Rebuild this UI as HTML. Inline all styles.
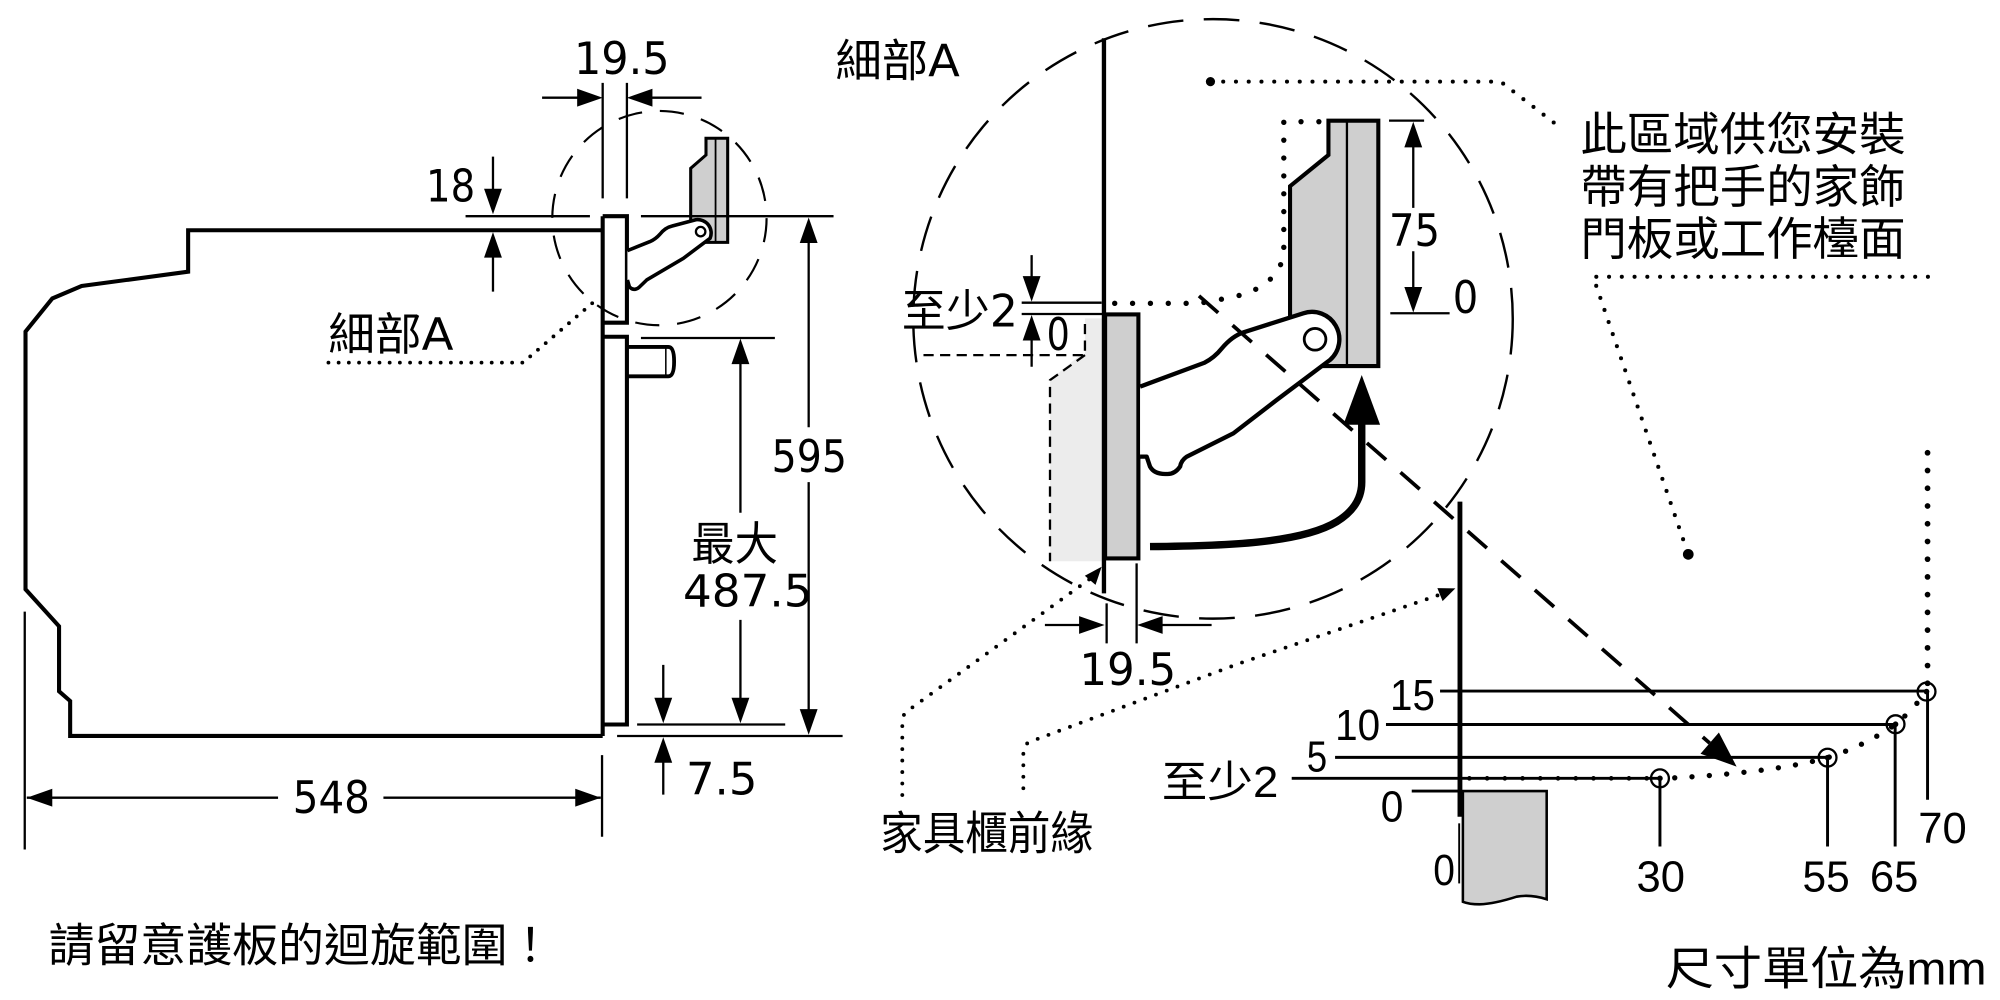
<!DOCTYPE html>
<html><head><meta charset="utf-8"><style>
html,body{margin:0;padding:0;background:#fff;}
svg{display:block;}
.d{font-family:"DejaVu Sans","Noto Sans CJK TC",sans-serif;font-size:35px;}
.c{font-family:"Liberation Sans","Noto Sans CJK TC",sans-serif;font-size:34px;}
.k{font-family:"Liberation Sans","Noto Sans CJK TC",sans-serif;font-size:36px;}
</style></head><body>
<svg width="2000" height="1000" viewBox="0 0 1568 784" xmlns="http://www.w3.org/2000/svg">
<rect x="0" y="0" width="1568" height="784" fill="#fff"/>

<!-- ===== LEFT FIGURE ===== -->
<g fill="none" stroke="#000" stroke-linejoin="miter">
  <polyline points="473,180.5 147.5,180.5 147.5,213 64,224.2 41,234 20,260 20,462 46.3,491 46.3,542 55,549.6 55,577 472.5,577" stroke-width="3.2"/>
  <path d="M472.5,169.5 V577 M472.5,169.5 H491.5 V253 H472.5 M472.5,264 H491.5 V568 H472.5" stroke-width="3.2"/>
  <path d="M492.5,272 H524 Q528.5,272 528.5,283.5 Q528.5,295 524,295 H492.5" stroke-width="3"/>
  <path d="M522,273 V294" stroke-width="1.2"/>
</g>
<!-- small gray panel -->
<path d="M553.5,108.4 H570.5 V190 H541.5 V132 L553.5,121.5 Z" fill="#cfcfcf" stroke="#000" stroke-width="2.4"/>
<path d="M561,108.4 V190" stroke="#000" stroke-width="1.4"/>
<!-- small arm -->
<path d="M491.9,196.5 L509.6,189.4 Q514,187.5 517.5,183.5 Q521.5,178.5 527,177.2 L545.5,172.3 A10.5,10.5 0 0 1 556.7,186.8 L535.8,202.5 L507,219.5 L501,225.3 Q497,228.5 493.5,225 L491.9,219.5" fill="#fff" stroke="#000" stroke-width="2.8" stroke-linejoin="round"/>
<circle cx="549.3" cy="181.6" r="3.7" fill="#fff" stroke="#000" stroke-width="1.8"/>
<!-- small dashed circle -->
<circle cx="517" cy="171" r="84" fill="none" stroke="#000" stroke-width="1.7" stroke-dasharray="19 14"/>

<!-- thin dimension lines left -->
<g fill="none" stroke="#000" stroke-width="1.8">
  <path d="M365,169.5 H462.5 M502.5,169.5 H653.5"/>
  <path d="M502.5,265 H607.5"/>
  <path d="M499.5,568 H615.6"/>
  <path d="M483.8,577 H660.6"/>
  <path d="M19.4,479.5 V666"/>
  <path d="M472,592 V656"/>
  <path d="M472.5,65 V155.5 M491.5,65 V155.5"/>
  <path d="M425,76.6 H455 M509,76.6 H550"/>
  <path d="M386.5,122.8 V150 M386.5,200 V228.6"/>
  <path d="M634,188 V335 M634,378 V558"/>
  <path d="M580.5,283 V402 M580.5,486 V549"/>
  <path d="M520,521.3 V549 M520,596 V623"/>
  <path d="M21,625.4 H218 M300.6,625.4 H471"/>
</g>
<g fill="#000">
  <polygon points="472.5,76.6 452.5,69.6 452.5,83.6"/>
  <polygon points="491.5,76.6 511.5,69.6 511.5,83.6"/>
  <polygon points="386.5,168 379.5,148 393.5,148"/>
  <polygon points="386.5,182 379.5,202 393.5,202"/>
  <polygon points="634,170.5 627,190.5 641,190.5"/>
  <polygon points="634,576 627,556 641,556"/>
  <polygon points="580.5,265.5 573.5,285.5 587.5,285.5"/>
  <polygon points="580.5,567 573.5,547 587.5,547"/>
  <polygon points="520,567 513,547 527,547"/>
  <polygon points="520,578 513,598 527,598"/>
  <polygon points="21,625.4 41,618.4 41,632.4"/>
  <polygon points="471,625.4 451,618.4 451,632.4"/>
</g>
<!-- left leader -->
<path d="M257.5,284.3 H410 L467.5,235" fill="none" stroke="#000" stroke-width="3" stroke-linecap="round" stroke-dasharray="0 8"/>

<!-- left texts -->
<text class="d" x="450" y="58" textLength="75" lengthAdjust="spacingAndGlyphs">19.5</text>
<text class="d" x="334" y="158" textLength="38.5" lengthAdjust="spacingAndGlyphs">18</text>
<text class="d" x="257.5" y="274.5" font-size="33" textLength="98" lengthAdjust="spacingAndGlyphs">細部A</text>
<text class="d" x="605" y="370" textLength="59" lengthAdjust="spacingAndGlyphs">595</text>
<text class="k" x="542" y="439" font-size="34" textLength="68" lengthAdjust="spacingAndGlyphs">最大</text>
<text class="d" x="535.5" y="475.6" textLength="101.5" lengthAdjust="spacingAndGlyphs">487.5</text>
<text class="d" x="537.8" y="623" textLength="56" lengthAdjust="spacingAndGlyphs">7.5</text>
<text class="d" x="229.5" y="637.6" textLength="60.5" lengthAdjust="spacingAndGlyphs">548</text>
<text class="k" x="38" y="754" font-size="37">請留意護板的迴旋範圍！</text>

<!-- ===== DETAIL A ===== -->
<polygon points="823.2,440 823.2,298 846.7,278.4 850.6,278.4 850.6,249.6 866,249.6 866,440" fill="#ececec"/>
<path d="M724,278.4 H850.6 V249.6 M850.6,278.4 L823.2,298 V440" fill="none" stroke="#000" stroke-width="1.8" stroke-dasharray="8 5"/>
<rect x="866.4" y="246.5" width="26.1" height="191.3" fill="#cfcfcf" stroke="#000" stroke-width="3.2"/>
<path d="M865.5,30 V465.2" stroke="#000" stroke-width="3.4" fill="none"/>

<!-- detail gray panel -->
<path d="M1041.5,94.6 H1080.6 V287 H1011.4 V146 L1041.5,121.5 Z" fill="#cfcfcf" stroke="#000" stroke-width="3.2"/>
<path d="M1056,94.6 V287" stroke="#000" stroke-width="1.8"/>

<!-- dotted outline -->
<path d="M1034,95.4 H1006.5 V200 Q1000,228 960,234 Q945,237.8 934,237.8 H869" fill="none" stroke="#000" stroke-width="4.2" stroke-linecap="round" stroke-dasharray="0 14"/>

<!-- detail arm -->
<path d="M893.8,303.1 L944,284.5 Q952,280.5 958,273 Q966,263.5 975,260.5 L1021.8,245.6 A21.5,21.5 0 0 1 1042.7,282.2 L1000.9,313.6 L967,339.7 L930.4,358 Q926,361 925.2,365.8 Q921,372 914.7,371.6 Q905,372 901.6,365.8 L899,358 L893.8,358" fill="#fff" stroke="#000" stroke-width="3.4" stroke-linejoin="round"/>
<circle cx="1031" cy="266" r="8.5" fill="#fff" stroke="#000" stroke-width="2.2"/>

<!-- big arrow -->
<path d="M901.6,428.5 C960,428 1020,426 1048,409 Q1067.6,397 1067.6,378 V328" fill="none" stroke="#000" stroke-width="5.8"/>
<polygon points="1067.6,294 1053.2,333 1082,333" fill="#000"/>

<!-- big dashed circle -->
<circle cx="951" cy="250" r="235" fill="none" stroke="#000" stroke-width="1.9" stroke-dasharray="28 16"/>

<!-- diagonal dashed line -->
<path d="M940,232 L1340.4,582.6" fill="none" stroke="#000" stroke-width="2.9" stroke-dasharray="20 15"/>
<polygon points="1361.5,601 1333.2,590.9 1347.6,574.3" fill="#000"/>

<!-- detail dims -->
<g fill="none" stroke="#000" stroke-width="1.8">
  <path d="M801,237.3 H863.7 M801,246.2 H866"/>
  <path d="M808.8,200 V218 M808.8,265 V287.5"/>
  <path d="M1089,94.6 H1116.5 M1090,245.6 H1136.5"/>
  <path d="M1108,113 V163 M1108,197 V228"/>
  <path d="M891.1,441.7 V504.4 M867.6,473 V504.4"/>
  <path d="M819.2,490 H848 M909,490 H949.9"/>
</g>
<g fill="#000">
  <polygon points="808.8,236.5 801.8,216.5 815.8,216.5"/>
  <polygon points="808.8,247 801.8,267 815.8,267"/>
  <polygon points="1108,95.5 1101,115.5 1115,115.5"/>
  <polygon points="1108,245 1101,225 1115,225"/>
  <polygon points="866,490 846,483 846,497"/>
  <polygon points="891.5,490 911.5,483 911.5,497"/>
</g>

<!-- right text leaders -->
<path d="M949,64 H1176.5 L1224,100.6" fill="none" stroke="#000" stroke-width="3.2" stroke-linecap="round" stroke-dasharray="0 10"/>
<circle cx="949" cy="64" r="3.6" fill="#000"/>
<path d="M1511.5,217 H1249 L1323.6,434.6" fill="none" stroke="#000" stroke-width="3.2" stroke-linecap="round" stroke-dasharray="0 10"/>
<circle cx="1323.6" cy="434.6" r="4.2" fill="#000"/>
<path d="M1511.2,355 V536" fill="none" stroke="#000" stroke-width="4.5" stroke-linecap="round" stroke-dasharray="0 13.9"/>

<!-- detail texts -->
<text class="d" x="655" y="60" font-size="33" textLength="97.5" lengthAdjust="spacingAndGlyphs">細部A</text>
<text class="d" x="707" y="256" font-size="34" textLength="91" lengthAdjust="spacingAndGlyphs">至少2</text>
<text class="d" x="820.6" y="274.4" textLength="18.2" lengthAdjust="spacingAndGlyphs">0</text>
<text class="d" x="1089" y="193" textLength="40" lengthAdjust="spacingAndGlyphs">75</text>
<text class="d" x="1139" y="245.6" textLength="20" lengthAdjust="spacingAndGlyphs">0</text>
<text class="k" x="1239" y="118" textLength="255" lengthAdjust="spacingAndGlyphs">此區域供您安裝</text>
<text class="k" x="1239" y="159" textLength="255" lengthAdjust="spacingAndGlyphs">帶有把手的家飾</text>
<text class="k" x="1239" y="200" textLength="255" lengthAdjust="spacingAndGlyphs">門板或工作檯面</text>
<text class="d" x="846.2" y="537" textLength="76" lengthAdjust="spacingAndGlyphs">19.5</text>
<text class="k" x="690" y="666" font-size="35" textLength="167" lengthAdjust="spacingAndGlyphs">家具櫃前緣</text>

<!-- 家具櫃前緣 leaders -->
<path d="M707.4,623.3 V566 Q707.4,560 712,557 L855,453.5" fill="none" stroke="#000" stroke-width="3" stroke-linecap="round" stroke-dasharray="0 9"/>
<polygon points="863.7,444.3 858.9,458.5 850.5,451.4" fill="#000"/>
<path d="M802.3,618 V590 Q802.3,583 809,581 L972,520 Q1060,490 1128,466.5" fill="none" stroke="#000" stroke-width="3" stroke-linecap="round" stroke-dasharray="0 9"/>
<polygon points="1141,461.3 1131,471.3 1126.9,461.1" fill="#000"/>

<!-- ===== CHART ===== -->
<path d="M1146.9,620.2 H1212.6 V705 Q1200,701 1189,703 Q1172,708.5 1160,709 Q1152,709 1146.9,707 Z" fill="#cfcfcf" stroke="#000" stroke-width="2"/>
<path d="M1144.6,393.3 V640.3" stroke="#000" stroke-width="3.8" fill="none"/>
<path d="M1144,645.5 V692.6" stroke="#000" stroke-width="1.5" fill="none"/>
<g fill="none" stroke="#000" stroke-width="2.3">
  <path d="M1129,541.8 H1510.4"/>
  <path d="M1086.6,568 H1486"/>
  <path d="M1046.7,593.8 H1432.8"/>
  <path d="M1012.7,610.2 H1301.4"/>
  <path d="M1106.8,620.2 H1146"/>
  <path d="M1511.2,542 V627 M1485.8,568 V663.7 M1432.8,594 V663.7 M1301.4,610 V663.7"/>
</g>
<path d="M1152,610.2 H1295" fill="none" stroke="#000" stroke-width="3.6" stroke-linecap="round" stroke-dasharray="0 13.9"/>
<path d="M1313,609.8 C1355,607.5 1400,603 1432.8,594 C1458,586 1476,575 1486.1,567.8 C1497,559 1505,549 1510.4,542.2" fill="none" stroke="#000" stroke-width="4.2" stroke-linecap="round" stroke-dasharray="0 13.6"/>
<g fill="none" stroke="#000" stroke-width="1.8">
  <circle cx="1510.4" cy="542.2" r="7"/>
  <circle cx="1486.1" cy="567.8" r="7"/>
  <circle cx="1432.8" cy="594" r="7"/>
  <circle cx="1301.4" cy="610.2" r="7"/>
</g>
<g fill="#000">
  <circle cx="1510.4" cy="542.2" r="2.2"/>
  <circle cx="1486.1" cy="567.8" r="2.2"/>
  <circle cx="1432.8" cy="594" r="2.2"/>
  <circle cx="1301.4" cy="610.2" r="2.2"/>
</g>

<text class="c" x="1089.8" y="556.7" textLength="35.2" lengthAdjust="spacingAndGlyphs">15</text>
<text class="c" x="1046.7" y="580.2" textLength="35.3" lengthAdjust="spacingAndGlyphs">10</text>
<text class="c" x="1024.5" y="605" textLength="16" lengthAdjust="spacingAndGlyphs">5</text>
<text class="c" x="910.8" y="625" textLength="91.4" lengthAdjust="spacingAndGlyphs">至少2</text>
<text class="c" x="1082.5" y="644.2" textLength="17.7" lengthAdjust="spacingAndGlyphs">0</text>
<text class="c" x="1123.7" y="693.9" textLength="17" lengthAdjust="spacingAndGlyphs">0</text>
<text class="c" x="1283" y="699" textLength="38" lengthAdjust="spacingAndGlyphs">30</text>
<text class="c" x="1413.2" y="699" textLength="37" lengthAdjust="spacingAndGlyphs">55</text>
<text class="c" x="1466" y="699" textLength="38" lengthAdjust="spacingAndGlyphs">65</text>
<text class="c" x="1503.9" y="661" textLength="38" lengthAdjust="spacingAndGlyphs">70</text>
<text class="k" x="1306" y="772" textLength="251.5" lengthAdjust="spacingAndGlyphs">尺寸單位為mm</text>
</svg>
</body></html>
